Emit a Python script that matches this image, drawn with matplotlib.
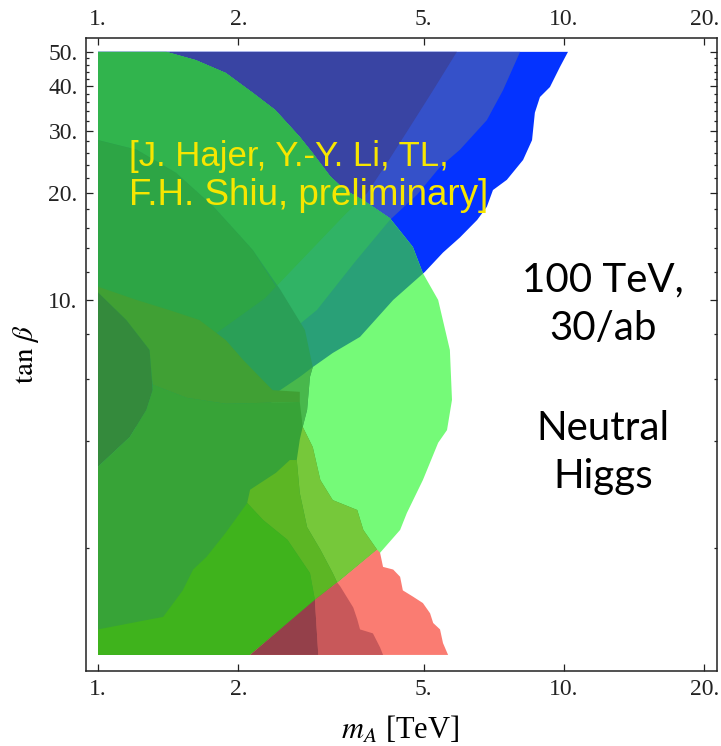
import matplotlib
matplotlib.use("Agg")
import matplotlib.pyplot as plt
from matplotlib.ticker import FixedLocator, FixedFormatter, NullFormatter

plt.rcParams['font.family'] = 'serif'
plt.rcParams['font.serif'] = ['Liberation Serif', 'DejaVu Serif']
plt.rcParams['mathtext.fontset'] = 'stix'

# axes
x_ticks = [1, 2, 5, 10, 20]
x_ticklabels = ["1.", "2.", "5.", "10.", "20."]
y_ticks = [10, 20, 30, 40, 50]
y_ticklabels = ["10.", "20.", "30.", "40.", "50."]
y_minor = [2, 4, 6, 8, 12, 14, 16, 18, 22, 24, 26, 28, 32, 34, 36, 38, 42, 44, 46, 48]

# blue channel: three nested regions, each is everything up-left of its edge
blue_outer_mA = [10.2, 9.8, 9.33, 8.88, 8.66, 8.54, 8.17, 7.54, 7.04, 6.83, 6.51, 5.98, 5.50,
                 5.03, 4.30, 3.65, 3.19, 2.89, 2.71, 2.41, 2.02, 1.5, 1.0]
blue_outer_tb = [50, 45.3, 39.8, 37.3, 33.7, 28.2, 24.8, 21.8, 20.4, 18.3, 16.8, 15.0, 13.6,
                 12.0, 10.0, 7.87, 7.09, 6.47, 6.07, 5.47, 4.6, 3.3, 2.1]
blue_mid_mA = [8.05, 7.40, 6.83, 5.98, 5.42, 4.84, 4.23, 3.56, 2.95, 2.46, 2.05, 1.50, 1.0]
blue_mid_tb = [50, 39.0, 32.1, 26.5, 23.7, 19.8, 16.8, 12.8, 9.37, 7.71, 6.56, 4.90, 3.32]
blue_inner_mA = [5.89, 5.24, 4.67, 4.17, 3.78, 3.39, 2.71, 2.28, 1.655, 1.0]
blue_inner_tb = [50, 39.0, 30.7, 24.3, 20.0, 17.4, 12.8, 10.1, 7.47, 4.59]

# large light green region (top edge then right edge)
green_edge_mA = [1.40, 1.62, 1.88, 2.15, 2.40, 2.71, 2.89, 3.15, 3.39, 3.71, 4.23, 4.74, 4.98,
                 5.37, 5.69, 5.75, 5.61, 5.37, 4.98, 4.60, 4.45, 4.03, 3.50]
green_edge_tb = [50, 47.4, 43.6, 38.3, 34.3, 28.8, 25.9, 22.3, 20.4, 19.1, 17.0, 14.1, 11.9,
                 10.0, 7.23, 5.23, 4.30, 3.96, 3.11, 2.51, 2.25, 1.94, 1.0]

# darker green patches on the left
g2_mA = [1.0, 1.21, 1.47, 1.77, 2.05, 2.15, 2.46, 2.78, 2.89, 2.85, 2.81, 2.75, 1.0]
g2_tb = [28.2, 26.5, 22.8, 18.3, 14.8, 13.8, 10.7, 8.23, 6.47, 6.07, 4.90, 4.39, 4.39]
g2_light_mA = [2.89, 2.85, 2.81, 2.75, 2.22, 2.41, 2.71]
g2_light_tb = [6.47, 6.07, 4.90, 4.39, 4.39, 5.47, 6.07]
g2_dark_mA = [1.0, 1.21, 1.47, 1.77, 2.05, 2.15, 2.41, 2.28, 1.655, 1.0]
g2_dark_tb = [28.2, 26.5, 22.8, 18.3, 14.8, 13.8, 10.9, 10.1, 7.47, 4.59]
olive_mA = [1.0, 1.21, 1.42, 1.65, 1.88, 2.05, 2.37, 2.71, 2.71, 1.88, 1.55, 1.31, 1.29, 1.15, 1.0]
olive_tb = [10.9, 10.0, 9.37, 8.78, 7.71, 6.77, 5.57, 5.51, 5.16, 5.10, 5.30, 5.77, 7.23, 8.78, 10.5]
deep_mA = [1.0, 1.15, 1.29, 1.31, 1.27, 1.17, 1.0]
deep_tb = [10.5, 8.78, 7.23, 5.57, 4.90, 4.11, 3.39]
low_mA = [1.0, 1.17, 1.27, 1.31, 1.31, 1.55, 1.88, 2.71, 2.75, 2.89, 3.0, 3.19, 3.60, 3.71,
          3.97, 2.12, 1.0]
low_tb = [3.39, 4.11, 4.90, 5.57, 5.77, 5.30, 5.10, 5.16, 4.39, 3.85, 3.11, 2.73, 2.56, 2.25,
          1.98, 1.0, 1.0]
yellowgreen_mA = [2.75, 2.89, 3.0, 3.19, 3.60, 3.71, 3.97, 3.26, 3.19, 3.0, 2.81, 2.71, 2.67, 2.71]
yellowgreen_tb = [4.39, 3.85, 3.11, 2.73, 2.56, 2.25, 1.98, 1.60, 1.70, 1.98, 2.29, 2.86, 3.54, 4.04]
lime_mA = [2.58, 2.67, 2.71, 2.81, 3.0, 3.19, 3.26, 2.92, 2.85, 2.55, 2.26, 2.09, 2.12, 2.41]
lime_tb = [3.54, 3.54, 2.86, 2.29, 1.98, 1.70, 1.60, 1.43, 1.70, 2.11, 2.40, 2.68, 2.92, 3.26]
bright_mA = [1.0, 1.38, 1.52, 1.60, 1.71, 1.88, 2.09, 2.26, 2.55, 2.85, 2.92, 2.12, 1.0]
bright_tb = [1.18, 1.28, 1.52, 1.74, 1.89, 2.21, 2.68, 2.40, 2.11, 1.70, 1.43, 1.0, 1.0]

# red channel at low tan beta
red_outer_mA = [3.97, 4.03, 4.09, 4.30, 4.45, 4.51, 4.74, 4.98, 5.16, 5.24, 5.42, 5.50, 5.64, 2.12]
red_outer_tb = [1.98, 1.94, 1.77, 1.74, 1.66, 1.52, 1.46, 1.40, 1.31, 1.23, 1.18, 1.08, 1.0, 1.0]
red_mid_mA = [2.92, 3.26, 3.31, 3.53, 3.60, 3.65, 3.89, 4.03, 4.09, 2.97]
red_mid_tb = [1.43, 1.60, 1.56, 1.36, 1.26, 1.18, 1.15, 1.05, 1.0, 1.0]
red_inner_mA = [2.12, 2.92, 2.97]
red_inner_tb = [1.0, 1.43, 1.0]

fig = plt.figure(figsize=(7.21, 7.46), dpi=100)
ax = fig.add_axes([86 / 721, 75 / 746, 631 / 721, 633 / 746])
ax.set_xscale('log')
ax.set_yscale('log')
ax.set_xlim(0.9424, 21.3)
ax.set_ylim(0.901, 54.7)


def region(x, y, color, clip=None):
    p = ax.fill(x, y, color=color, lw=0)[0]
    if clip is not None:
        p.set_clip_path(clip)
    return p


# blue stripes
region([1.0] + blue_outer_mA, [50] + blue_outer_tb, '#0433ff')
region([1.0] + blue_mid_mA, [50] + blue_mid_tb, '#3551c9')
region([1.0] + blue_inner_mA, [50] + blue_inner_tb, '#3944a3')

# light green on top, tinted where the blue stripes lie under it
gtop = region([1.0] + green_edge_mA + [1.0], [50] + green_edge_tb + [1.0], '#75fa78')
region([1.0] + blue_outer_mA, [50] + blue_outer_tb, '#29a077', clip=gtop)
region([1.0] + blue_mid_mA, [50] + blue_mid_tb, '#30b365', clip=gtop)
region([1.0] + blue_inner_mA, [50] + blue_inner_tb, '#31b44d', clip=gtop)

# left greens
region(g2_mA, g2_tb, '#2a9f57')
region(g2_light_mA, g2_light_tb, '#48b84c')
region(g2_dark_mA, g2_dark_tb, '#2da545')
region(olive_mA, olive_tb, '#40a034')
region(deep_mA, deep_tb, '#348a3c')
region(low_mA, low_tb, '#37a337')
region(yellowgreen_mA, yellowgreen_tb, '#76c83a')
region(lime_mA, lime_tb, '#5cb624')
region(bright_mA, bright_tb, '#3fb31c')

# reds
region(red_outer_mA, red_outer_tb, '#fa7c72')
region(red_mid_mA, red_mid_tb, '#c8585a')
region(red_inner_mA, red_inner_tb, '#94404a')

# ticks
ax.xaxis.set_major_locator(FixedLocator(x_ticks))
ax.xaxis.set_major_formatter(FixedFormatter(x_ticklabels))
ax.xaxis.set_minor_locator(FixedLocator([]))
ax.yaxis.set_major_locator(FixedLocator(y_ticks))
ax.yaxis.set_major_formatter(FixedFormatter(y_ticklabels))
ax.yaxis.set_minor_locator(FixedLocator(y_minor))
ax.yaxis.set_minor_formatter(NullFormatter())
ax.tick_params(which='both', direction='in', top=True, right=True, labeltop=True,
               labelsize=17, colors='#222222', width=0.9)
ax.tick_params(which='major', length=5, pad=6)
ax.tick_params(which='minor', length=2.5)
for s in ax.spines.values():
    s.set_linewidth(1.1)
    s.set_color('#222222')

# annotations
ax.text(0.068, 0.798, "[J. Hajer, Y.-Y. Li, TL,", transform=ax.transAxes, fontsize=25,
        family='Liberation Sans', color='#f7e600', va='baseline')
ax.text(0.068, 0.736, "F.H. Shiu, preliminary]", transform=ax.transAxes, fontsize=26.5,
        family='Liberation Sans', color='#f7e600', va='baseline')
for txt, yb in [("100 TeV,", 0.599), ("30/ab", 0.523), ("Neutral", 0.365), ("Higgs", 0.289)]:
    ax.text(0.819, yb, txt, transform=ax.transAxes, fontsize=29, family='Lato',
            color='black', ha='center', va='baseline')

fig.text(26 / 721, 1 - 354 / 746, r'$\tan\,\beta$', rotation=90, ha='center', va='center',
         fontsize=21)
fig.text(400 / 721, 1 - 730 / 746, r'$m_A$ [TeV]', ha='center', va='center', fontsize=22)

fig.savefig('out.png', dpi=100)
